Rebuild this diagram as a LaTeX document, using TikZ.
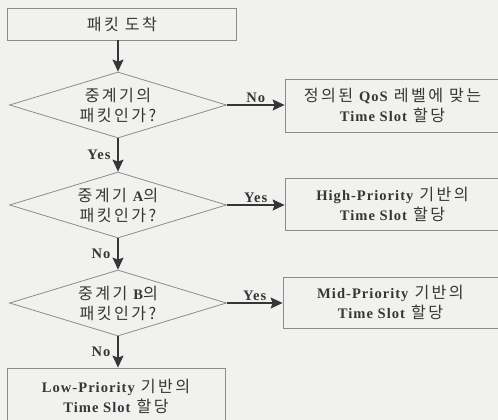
\documentclass[tikz,border=0pt]{standalone}
\usepackage{fontspec}
\setmainfont{Noto Sans CJK KR}[Scale=1.15, LetterSpace=15]
\newfontfamily\enfont{Liberation Serif}[Scale=1.04, LetterSpace=7]
\newcommand{\en}[1]{{\enfont\bfseries #1}}
\usetikzlibrary{shapes.geometric, arrows.meta}
\definecolor{inkgray}{HTML}{363636}
\definecolor{boxgray}{HTML}{8C8C8C}
\definecolor{paper}{HTML}{F1F1EF}
\tikzstyle{process} = [
    rectangle,
    draw=boxgray,
    line width=0.8pt,
    text=inkgray,
    align=center,
    inner sep=0pt
]
\tikzstyle{decision} = [
    diamond,
    aspect=3.3,
    minimum width=217,
    minimum height=66,
    draw=boxgray,
    line width=0.8pt,
    text=inkgray,
    align=center,
    inner sep=0pt
]
\tikzstyle{arrow} = [draw=inkgray, line width=1.3pt, -{Stealth[length=12pt, width=11pt, inset=2pt]}]
\tikzstyle{downlabel} = [midway, left, xshift=-3pt, text=inkgray]
\tikzstyle{sidelabel} = [midway, above, inner sep=2pt, text=inkgray]

\begin{document}
\begin{tikzpicture}[x=1pt, y=-1pt, font=\fontsize{14}{20}\selectfont]

\clip (0,0) rectangle (498,420);
\fill [paper] (0,0) rectangle (498,420);

\node (arrive) [process, minimum width=229, minimum height=32] at (122,24)
{패킷 도착};

\node (relay) [decision] at (118,105)
{중계기의\\패킷인가?};

\node (relayA) [decision] at (118,205)
{중계기 \en{A}의\\패킷인가?};

\node (relayB) [decision] at (118,303)
{중계기 \en{B}의\\패킷인가?};

\node (lowslot) [process, minimum width=218, minimum height=56] at (116,396)
{\en{Low-Priority} 기반의\\\en{Time Slot} 할당};

\node (qosslot) [process, minimum width=215, minimum height=53] at (392.5,105.5)
{정의된 \en{QoS} 레벨에 맞는\\\en{Time Slot} 할당};

\node (highslot) [process, minimum width=215, minimum height=52] at (392.5,204)
{\en{High-Priority} 기반의\\\en{Time Slot} 할당};

\node (midslot) [process, minimum width=215, minimum height=51] at (390.5,302.5)
{\en{Mid-Priority} 기반의\\\en{Time Slot} 할당};

\draw [arrow] (arrive.south -| relay.north) -- (relay.north);
\draw [arrow] (relay.south) -- node [downlabel] {\en{Yes}} (relayA.north);
\draw [arrow] (relayA.south) -- node [downlabel] {\en{No}} (relayB.north);
\draw [arrow] (relayB.south) -- node [downlabel] {\en{No}} (relayB.south |- lowslot.north);

\draw [arrow] (relay.east) -- node [sidelabel] {\en{No}} (relay.east -| qosslot.west);
\draw [arrow] (relayA.east) -- node [sidelabel] {\en{Yes}} (relayA.east -| highslot.west);
\draw [arrow] (relayB.east) -- node [sidelabel] {\en{Yes}} (relayB.east -| midslot.west);

\end{tikzpicture}
\end{document}
